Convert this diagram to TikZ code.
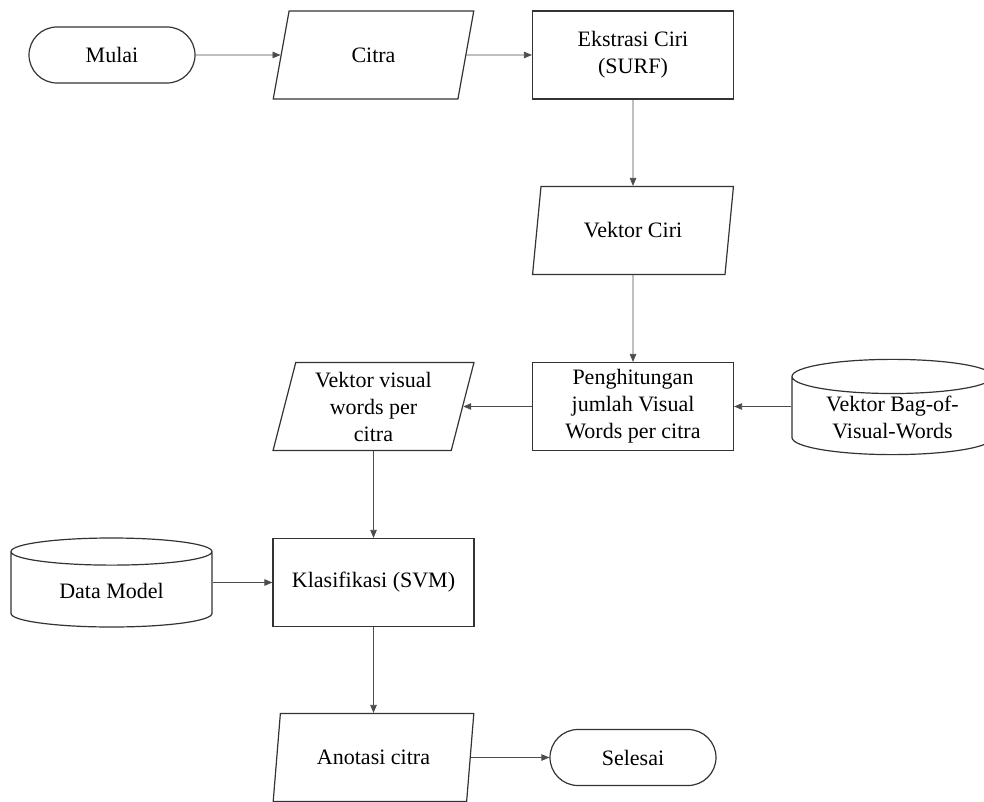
\documentclass[tikz,border=0pt]{standalone}
\usepackage{fontspec}
\setmainfont{Liberation Serif}
\usetikzlibrary{arrows.meta,shapes.geometric,shapes.misc}

\begin{document}
\begin{tikzpicture}[x=1pt,y=-1pt,
    every node/.style={font=\fontsize{22}{27}\selectfont, align=center,
      draw=black!80, line width=1.2pt, inner sep=2pt},
    terminal/.style={rounded rectangle, minimum width=170pt, minimum height=56pt},
    proses/.style={rectangle, minimum width=201pt, minimum height=88pt},
    io/.style={trapezium, trapezium left angle=76.5, trapezium right angle=103.5,
      trapezium stretches=true, minimum width=201pt, minimum height=88pt},
    db/.style={cylinder, shape border rotate=90, aspect=0.25,
      minimum width=201pt, minimum height=89pt, anchor=shape center},
    alur/.style={draw=black!70, line width=0.8pt, -{Triangle[length=8pt,width=6.5pt]}}]
    \useasboundingbox (0,0) rectangle (984,802);

    % baris atas
    \node[terminal] (mulai) at (112,55) {Mulai};
    \node[io] (citra) at (373.5,55) {Citra};
    \node[proses] (ekstrasi) at (633,55) {Ekstrasi Ciri\\(SURF)};

    % kolom kanan
    \node[io] (vciri) at (633,230.5) {Vektor Ciri};
    \node[proses] (hitung) at (633,406.5) {Penghitungan\\jumlah Visual\\Words per citra};
    \node[db] (bovw) at (892.5,407) {Vektor Bag-of-\\Visual-Words};

    % kolom tengah
    \node[io] (vvisual) at (373.5,406.5) {Vektor visual\\words per\\citra};
    \node[proses] (klasifikasi) at (373.5,582.5) {Klasifikasi (SVM)};
    \node[db] (model) at (111.5,582.5) {Data Model};
    \node[io] (anotasi) at (373.5,757.5) {Anotasi citra};
    \node[terminal] (selesai) at (633,757.5) {Selesai};

    % alur
    \draw[alur] (mulai) -- (citra);
    \draw[alur] (citra) -- (ekstrasi);
    \draw[alur] (ekstrasi) -- (vciri);
    \draw[alur] (vciri) -- (hitung);
    \draw[alur] (bovw.west |- hitung) -- (hitung);
    \draw[alur] (hitung) -- (vvisual);
    \draw[alur] (vvisual) -- (klasifikasi);
    \draw[alur] (model.east |- klasifikasi) -- (klasifikasi);
    \draw[alur] (klasifikasi) -- (anotasi);
    \draw[alur] (anotasi) -- (selesai);
\end{tikzpicture}
\end{document}
